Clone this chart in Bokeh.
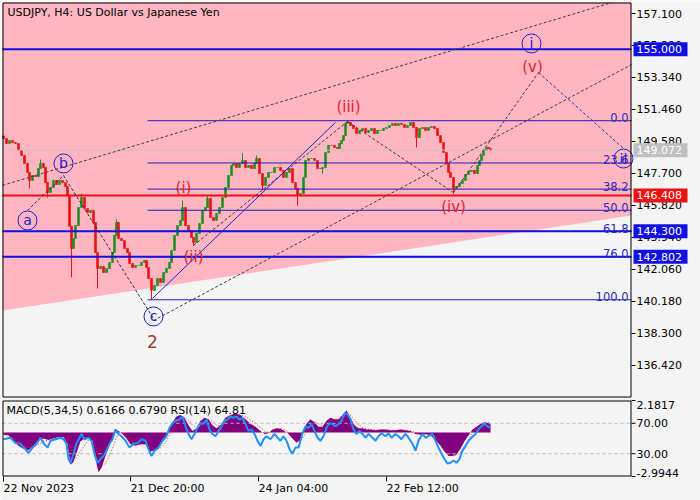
from bokeh.plotting import figure
from bokeh.models import Range1d
from bokeh.core.properties import value
from bokeh.embed import file_html
from bokeh.resources import INLINE

# ---------------- data ----------------
bars = [3, 6, 9, 12, 15, 18, 21, 24, 27, 29,
        32, 35, 38, 40, 43, 45, 47, 50, 53, 56,
        59, 62, 65, 67, 69, 71, 73, 75, 78, 81,
        84, 87, 90, 93, 95, 97, 100, 103, 106, 109,
        112, 114, 116, 118, 121, 124, 127, 129, 132, 135,
        138, 141, 144, 146, 148, 151, 154, 157, 160, 163,
        166, 169, 171, 174, 177, 180, 182, 185, 188, 191,
        193, 196, 199, 202, 205, 207, 210, 213, 216, 219,
        222, 225, 228, 231, 233, 236, 239, 242, 245, 248,
        251, 254, 256, 259, 262, 265, 268, 271, 274, 277,
        280, 283, 286, 289, 292, 295, 297, 300, 303, 305,
        308, 311, 314, 317, 320, 322, 325, 328, 331, 334,
        337, 339, 341, 343, 345, 347, 350, 353, 356, 359,
        362, 365, 368, 371, 374, 377, 380, 383, 386, 389,
        392, 395, 398, 401, 404, 407, 410, 413, 416, 419,
        422, 425, 428, 431, 434, 437, 440, 443, 446, 448,
        450, 453, 456, 459, 462, 465, 468, 471, 474, 477,
        479, 481, 483, 486, 488, 490]
closes = [149.76, 149.46, 149.64, 149.52, 149.46, 149.05, 148.76, 148.29, 147.76, 147.29,
          147.58, 147.52, 147.99, 148.29, 148.05, 147.17, 146.58, 146.88, 147.29, 147.05,
          147.29, 147.17, 146.94, 146.41, 144.60, 143.29, 143.88, 144.64, 145.70, 146.29,
          145.64, 145.41, 145.53, 144.82, 143.06, 142.12, 142.24, 141.88, 142.12, 142.47,
          143.06, 144.06, 144.82, 143.88, 143.76, 143.29, 143.06, 142.41, 142.18, 142.30,
          142.30, 142.47, 142.59, 142.18, 141.53, 140.83, 141.12, 141.53, 141.30, 141.88,
          142.12, 142.47, 143.18, 144.06, 144.64, 144.94, 145.70, 144.64, 144.35, 143.94,
          143.65, 144.18, 144.76, 145.53, 145.70, 146.23, 145.12, 144.94, 145.35, 145.70,
          146.29, 146.88, 147.58, 148.17, 148.29, 148.05, 148.29, 148.46, 148.05, 148.17,
          147.99, 148.29, 148.58, 147.70, 147.00, 147.47, 147.76, 147.76, 148.05, 148.05,
          147.88, 147.47, 147.76, 147.99, 147.17, 146.82, 146.41, 146.52, 147.47, 148.46,
          148.58, 148.58, 148.46, 147.99, 147.99, 148.05, 148.93, 149.35, 149.35, 149.23,
          149.17, 149.46, 149.64, 149.93, 150.64, 150.70, 150.52, 150.34, 150.05, 150.23,
          150.34, 150.11, 150.23, 150.34, 150.05, 150.23, 150.23, 150.34, 150.40, 150.52,
          150.64, 150.52, 150.64, 150.58, 150.40, 150.52, 150.70, 150.40, 149.81, 150.34,
          150.40, 150.23, 150.40, 150.46, 150.34, 149.93, 149.52, 148.93, 148.29, 147.76,
          147.47, 146.82, 146.94, 147.11, 147.29, 147.64, 147.82, 147.88, 147.70, 148.17,
          148.46, 148.76, 149.05, 149.23, 149.17, 149.07]
first_open = 149.90
wick_bars = [29, 40, 47, 71, 81, 97, 116, 151, 182, 193, 207, 242, 256, 262, 297, 322, 347, 416, 453]
wick_prices = [146.82, 148.52, 146.29, 141.59, 146.52, 140.94, 145.00, 140.28, 146.11, 143.47,
               146.41, 148.88, 148.76, 146.70, 145.82, 147.70, 150.81, 149.23, 146.52]

price_ticks = [136.42, 138.30, 140.18, 142.06, 143.94, 145.82, 147.70, 149.58, 151.46, 153.34, 155.22, 157.10]
level_prices = [155.000, 146.408, 144.300, 142.802]
level_colors = ["#1010e6", "#f01010", "#1010e6", "#1010e6"]
bid_price = 149.072

fib_high = 150.80
fib_low = 140.28
fib_pcts = [0.0, 23.6, 38.2, 50.0, 61.8, 76.0, 100.0]
fib_start = 147

circ_text = ["a", "b", "c", "i", "ii"]
circ_bar = [27, 63, 153, 531, 623]
circ_price = [144.94, 148.29, 139.30, 155.34, 148.58]
wave_text = ["(i)", "(ii)", "(iii)", "(iv)", "(v)"]
wave_bar = [183, 193, 348, 453, 532]
wave_price = [146.82, 142.77, 151.58, 145.76, 153.93]
deg_text = ["2"]
deg_bar = [152]
deg_price = [137.83]

# dashed construction lines (bar, price) pairs
dash_x0 = [2, 153, 27, 63, 193, 347, 453, 538]
dash_y0 = [147.00, 139.06, 145.53, 147.58, 143.47, 150.75, 146.58, 153.63]
dash_x1 = [611, 631, 63, 153, 347, 453, 538, 623]
dash_y1 = [157.74, 154.10, 147.58, 139.18, 150.75, 146.58, 153.63, 149.17]
dash_colors = ["#404040", "#404040", "#302850", "#302850", "#503038", "#503038", "#503038", "#3030a8"]
trend_x = [152, 335]
trend_y = [140.36, 150.70]
pink_x = [2, 631, 631, 2]
pink_y = [139.65, 145.23, 157.74, 157.74]

date_ticks = [3, 130, 258, 386]
date_labels = ["22 Nov 2023", "21 Dec 20:00", "24 Jan 04:00", "22 Feb 12:00"]

macd_bars = [3, 8, 13, 18, 23, 28, 33, 38, 43, 48,
             53, 58, 63, 67, 70, 73, 76, 80, 84, 88,
             92, 95, 98, 101, 104, 108, 112, 115, 118, 122,
             126, 130, 135, 140, 145, 150, 155, 160, 165, 168,
             172, 176, 180, 184, 188, 192, 196, 200, 204, 208,
             212, 216, 220, 225, 230, 235, 240, 245, 250, 255,
             260, 264, 268, 272, 276, 280, 284, 288, 292, 296,
             300, 303, 306, 310, 314, 318, 322, 326, 330, 334,
             338, 342, 346, 350, 354, 358, 362, 366, 370, 375,
             380, 385, 390, 395, 400, 405, 410, 415, 420, 425,
             430, 435, 440, 444, 448, 452, 456, 460, 464, 468,
             472, 476, 480, 484, 488, 490]
macd_vals = [-0.15, -0.2, -0.6, -0.9, -1.1, -1.2, -0.9, -0.5, -0.4, -0.5,
             -0.4, -0.3, -0.3, -0.8, -2.2, -2.0, -1.4, -0.6, -0.4, -0.3,
             -0.6, -1.8, -2.7, -2.4, -1.8, -1.0, -0.4, 0.2, 0.1, -0.1,
             -0.4, -0.8, -0.9, -0.8, -0.8, -1.3, -1.2, -0.8, -0.3, 0.2,
             0.7, 1.1, 1.2, 1.0, 0.5, 0.1, 0.3, 0.8, 1.0, 0.9,
             0.5, 0.3, 0.5, 1.0, 1.2, 1.3, 1.2, 0.9, 0.6, 0.4,
             0.1, -0.1, -0.05, 0.2, 0.3, 0.25, 0.1, -0.1, -0.4, -0.7,
             -0.5, 0.1, 0.6, 0.9, 0.7, 0.4, 0.4, 0.8, 1.0, 0.9,
             0.9, 1.2, 1.5, 1.0, 0.5, 0.3, 0.3, 0.2, 0.2, 0.15,
             0.2, 0.2, 0.15, 0.15, 0.2, 0.15, 0.1, -0.1, -0.15, -0.1,
             -0.2, -0.5, -0.9, -1.3, -1.6, -1.6, -1.5, -1.1, -0.6, -0.2,
             0.2, 0.4, 0.6, 0.7, 0.65, 0.6166]
signal_vals = [-0.1, -0.15, -0.35, -0.6, -0.85, -1.0, -1.0, -0.8, -0.6, -0.5,
               -0.45, -0.4, -0.35, -0.5, -1.1, -1.6, -1.7, -1.3, -0.9, -0.5,
               -0.45, -0.9, -1.6, -2.2, -2.2, -1.7, -1.1, -0.5, -0.1, 0.0,
               -0.2, -0.5, -0.75, -0.85, -0.8, -1.0, -1.15, -1.05, -0.7, -0.3,
               0.2, 0.6, 0.95, 1.05, 0.85, 0.5, 0.3, 0.45, 0.75, 0.9,
               0.75, 0.5, 0.45, 0.7, 1.0, 1.15, 1.2, 1.1, 0.85, 0.6,
               0.35, 0.1, 0.0, 0.05, 0.2, 0.25, 0.2, 0.05, -0.2, -0.45,
               -0.55, -0.3, 0.1, 0.55, 0.7, 0.6, 0.45, 0.55, 0.8, 0.9,
               0.9, 1.0, 1.25, 1.2, 0.85, 0.5, 0.35, 0.25, 0.2, 0.18,
               0.18, 0.18, 0.17, 0.16, 0.17, 0.16, 0.13, 0.0, -0.1, -0.12,
               -0.15, -0.3, -0.6, -0.95, -1.3, -1.5, -1.55, -1.35, -0.95, -0.5,
               -0.05, 0.25, 0.45, 0.6, 0.68, 0.679]
macd_max = 2.1817
macd_min = -2.9944
rsi_bars = [3, 10, 15, 20, 25, 28, 32, 36, 40, 43,
            47, 50, 55, 60, 63, 66, 68, 70, 73, 76,
            79, 81, 84, 88, 91, 94, 97, 100, 103, 106,
            109, 112, 115, 118, 121, 125, 129, 133, 137, 141,
            145, 148, 151, 154, 158, 162, 166, 169, 172, 175,
            179, 182, 185, 188, 191, 194, 197, 200, 203, 206,
            209, 212, 215, 218, 221, 224, 227, 230, 233, 236,
            239, 242, 245, 248, 251, 254, 257, 260, 263, 266,
            270, 274, 277, 280, 283, 286, 289, 292, 295, 298,
            300, 302, 305, 308, 311, 314, 317, 320, 323, 326,
            329, 332, 335, 338, 341, 344, 347, 350, 353, 356,
            359, 362, 365, 368, 372, 375, 378, 381, 385, 388,
            391, 395, 398, 401, 405, 408, 412, 415, 418, 422,
            425, 428, 432, 435, 438, 441, 444, 447, 450, 453,
            456, 459, 462, 465, 468, 471, 475, 478, 481, 484,
            487, 490]
rsi_vals = [49, 51, 44, 43, 36, 31, 38, 43, 51, 44,
            38, 47, 49, 51, 49, 43, 23, 18, 30, 43,
            51, 56, 49, 51, 47, 30, 18, 23, 27, 34,
            43, 49, 62, 56, 53, 47, 38, 43, 44, 49,
            47, 36, 27, 34, 38, 47, 53, 64, 70, 73,
            75, 79, 66, 56, 49, 56, 64, 70, 69, 75,
            62, 56, 53, 60, 66, 73, 75, 79, 77, 79,
            75, 77, 69, 60, 62, 56, 47, 40, 49, 53,
            49, 56, 51, 47, 53, 47, 36, 30, 38, 38,
            47, 57, 66, 64, 69, 60, 51, 47, 53, 64,
            70, 69, 66, 69, 73, 83, 82, 75, 62, 56,
            60, 56, 51, 56, 51, 47, 53, 57, 53, 57,
            51, 56, 53, 49, 56, 51, 43, 34, 47, 56,
            51, 53, 56, 47, 38, 30, 23, 17, 18, 21,
            18, 23, 34, 40, 47, 51, 56, 62, 66, 69,
            66, 64.81]
rsi_levels = [70, 30]

title_text = "USDJPY, H4:  US Dollar vs Japanese Yen"
ind_text = "MACD(5,34,5) 0.6166 0.6790 RSI(14) 64.81"

# ---------------- layout helpers (pixel -> data positions) ----------------
FONT = "DejaVu Sans"
BG = "#f4f4f4"
X0, X1 = 2, 631
PPU = 17.02  # price pixels per yen


def price_at(pix):
    return 157.1 - (pix - 13) / PPU


def macd_at(pix):
    return macd_max - (pix - 400) * (macd_max - macd_min) / 76.0


def rsi_at(pix):
    return (476 - pix) * 100.0 / 76.0


# ---------------- candles ----------------
opens = [first_open] + closes[:-1]
highs = [max(o, c) for o, c in zip(opens, closes)]
lows = [min(o, c) for o, c in zip(opens, closes)]
for b, w in zip(wick_bars, wick_prices):
    i = bars.index(b)
    if w > highs[i]:
        highs[i] = w
    else:
        lows[i] = w
ccolors = ["#1f8f1f" if c >= o else "#ee1111" for o, c in zip(opens, closes)]
tops = [max(o, c) for o, c in zip(opens, closes)]
bots = [min(o, c) for o, c in zip(opens, closes)]

# ---------------- figure ----------------
p = figure(width=700, height=500, min_border=0,
           x_range=Range1d(0, 700), y_range=Range1d(price_at(500), price_at(0)),
           x_axis_location=None, y_axis_location=None,
           toolbar_location=None, output_backend="svg",
           background_fill_color=BG, border_fill_color=BG, outline_line_color=None)
p.grid.visible = False
p.extra_y_ranges = {"macd": Range1d(macd_at(500), macd_at(0)),
                    "rsi": Range1d(rsi_at(500), rsi_at(0))}

# main panel
p.patch(pink_x, pink_y, fill_color="#ffb6c1", line_color=None)
p.segment(x0=bars, y0=lows, x1=bars, y1=highs, line_color=ccolors, line_width=1)
p.vbar(x=bars, width=2, top=tops, bottom=bots, fill_color=ccolors, line_color=ccolors, line_width=0.6)

p.segment(x0=[X0], y0=[bid_price], x1=[X1], y1=[bid_price], line_color="#c4c4c4", line_width=1)

fib_levels = [fib_high - q / 100.0 * (fib_high - fib_low) for q in fib_pcts]
p.segment(x0=[fib_start] * len(fib_levels), y0=fib_levels, x1=[X1] * len(fib_levels), y1=fib_levels,
          line_color="#1c1cc0", line_width=1)
p.segment(x0=[X0] * len(level_prices), y0=level_prices, x1=[X1] * len(level_prices), y1=level_prices,
          line_color=level_colors, line_width=2)

p.segment(x0=dash_x0, y0=dash_y0, x1=dash_x1, y1=dash_y1, line_color=dash_colors,
          line_width=1, line_dash="3 2")
p.line(trend_x, trend_y, line_color="#2020d0", line_width=1)

p.scatter(circ_bar, circ_price, marker="circle", size=19, fill_alpha=0,
          line_color="#2020d0", line_width=1)
p.text(circ_bar, circ_price, text=circ_text, text_font=value(FONT), text_font_size="14px",
       text_color="#2020d0", text_align="center", text_baseline="middle")
p.text(wave_bar, wave_price, text=wave_text, text_font=value(FONT), text_font_size="15px",
       text_color="#e8202c", text_align="center", text_baseline="middle")
p.text(deg_bar, deg_price, text=deg_text, text_font=value(FONT), text_font_size="17px",
       text_color="#a04438", text_align="center", text_baseline="middle")

fib_txt = ["%.1f" % q for q in fib_pcts]
p.text([628] * len(fib_levels), fib_levels, text=fib_txt, text_font=value(FONT),
       text_font_size="11.5px", text_color="#2c2cb4", text_align="right",
       text_baseline="alphabetic", y_offset=-3)

p.text([7], [price_at(12)], text=[title_text], text_font=value(FONT), text_font_size="11px",
       text_color="black", text_align="left", text_baseline="middle")

# main frame border
p.line([X0 + 0.5, X1 - 0.5, X1 - 0.5, X0 + 0.5, X0 + 0.5],
       [price_at(2.5), price_at(2.5), price_at(396.5), price_at(396.5), price_at(2.5)],
       line_color="black", line_width=1)

# price scale (ticks + labels)
p.segment(x0=[X1] * len(price_ticks), y0=price_ticks, x1=[X1 + 4] * len(price_ticks), y1=price_ticks,
          line_color="black", line_width=1)
p.text([X1 + 5] * len(price_ticks), price_ticks, text=["%.3f" % t for t in price_ticks],
       text_font=value(FONT), text_font_size="11px", text_color="black",
       text_align="left", text_baseline="middle")

# price tags
tag_prices = [level_prices[0], bid_price, level_prices[1], level_prices[2], level_prices[3]]
tag_colors = ["#1010e6", "#c0c0c0", "#f01010", "#1010e6", "#1010e6"]
p.rect(x=[X1 + 29] * len(tag_prices), y=tag_prices, width=54, height=14 / PPU,
       fill_color=tag_colors, line_color=None)
p.text([X1 + 5] * len(tag_prices), tag_prices, text=["%.3f" % t for t in tag_prices],
       text_font=value(FONT), text_font_size="11px", text_color="white",
       text_align="left", text_baseline="middle")

# ---------------- indicator panel ----------------
p.varea(x=macd_bars, y1=[0] * len(macd_bars), y2=macd_vals, fill_color="#800080", y_range_name="macd")
p.line(macd_bars, signal_vals, line_color="#ff2020", line_width=1, line_dash="1 2", y_range_name="macd")
p.segment(x0=[X0] * len(rsi_levels), y0=rsi_levels, x1=[X1] * len(rsi_levels), y1=rsi_levels,
          y_range_name="rsi", line_color="#b8b8b8", line_width=1, line_dash="3 3")
p.line(rsi_bars, rsi_vals, y_range_name="rsi", line_color="#1e90ff", line_width=2)

p.line([X0 + 0.5, X1 - 0.5, X1 - 0.5, X0 + 0.5, X0 + 0.5],
       [macd_at(400.5), macd_at(400.5), macd_at(475.5), macd_at(475.5), macd_at(400.5)],
       y_range_name="macd", line_color="black", line_width=1)

p.text([6], [macd_at(410)], text=[ind_text], text_font=value(FONT), text_font_size="11px",
       text_color="black", text_align="left", text_baseline="middle", y_range_name="macd")

# indicator scale
p.segment(x0=[X1] * 2, y0=rsi_levels, x1=[X1 + 4] * 2, y1=rsi_levels,
          line_color="black", y_range_name="rsi")
p.text([X1 + 5] * 2, rsi_levels, text=["%.2f" % v for v in rsi_levels], text_font=value(FONT),
       text_font_size="11px", text_color="black", text_align="left", text_baseline="middle",
       y_range_name="rsi")
p.segment(x0=[X1] * 2, y0=[macd_max, macd_min], x1=[X1 + 4] * 2, y1=[macd_max, macd_min],
          line_color="black", y_range_name="macd")
p.text([X1 + 5], [macd_max], text=["%.4f" % macd_max], text_font=value(FONT),
       text_font_size="11px", text_color="black", text_align="left", text_baseline="top",
       y_range_name="macd", y_offset=0)
p.text([X1 + 5], [macd_min], text=["%.4f" % macd_min], text_font=value(FONT),
       text_font_size="11px", text_color="black", text_align="left", text_baseline="bottom",
       y_range_name="macd", y_offset=0)

# time scale
p.segment(x0=date_ticks, y0=[macd_at(476)] * len(date_ticks), x1=date_ticks,
          y1=[macd_at(481)] * len(date_ticks), line_color="black", y_range_name="macd")
p.text(date_ticks, [macd_at(488)] * len(date_ticks), text=date_labels, text_font=value(FONT),
       text_font_size="11px", text_color="black", text_align="left", text_baseline="middle",
       y_range_name="macd")

open("out.html", "w").write(file_html(p, INLINE))
